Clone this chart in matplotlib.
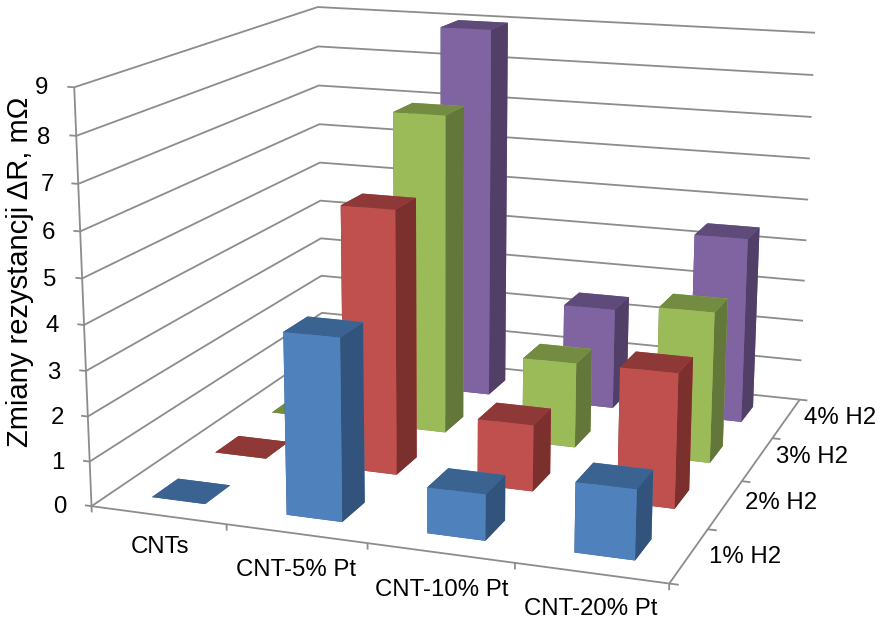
import numpy as np
import matplotlib
matplotlib.use('Agg')
import matplotlib.pyplot as plt
from mpl_toolkits.mplot3d import Axes3D

plt.rcParams['font.family'] = ['Liberation Sans', 'DejaVu Sans']

W, H = 880, 622

materials = ['CNTs', 'CNT-5% Pt', 'CNT-10% Pt', 'CNT-20% Pt']
gases = ['1% H2', '2% H2', '3% H2', '4% H2']

h2_1 = [0.0, 4.0, 1.0, 1.5]
h2_2 = [0.0, 6.0, 1.5, 3.0]
h2_3 = [0.0, 7.5, 2.0, 3.5]
h2_4 = [0.0, 9.0, 2.45, 4.45]
series = [h2_1, h2_2, h2_3, h2_4]

z_ticks = list(range(0, 10))

# front, top, side colour per series
front_cols = ['#4f81bd', '#c0504d', '#9bbb59', '#8064a2']
top_cols = ['#3b6391', '#8e3937', '#748c42', '#5f4b79']
side_cols = ['#32547c', '#7b302e', '#64773a', '#513f67']

grid_col = '#8c8c8c'

# box corners in data units and where they land on the canvas, used to
# solve for the perspective camera
box_pts = [(0, 0, 0), (0, 0, 9), (4, 0, 0), (4, 4, 0), (4, 4, 9), (0, 4, 0), (0, 4, 9)]
box_px = [(92, 506), (74, 87), (669, 584), (800, 399), (815, 33), (322, 350), (318, 7)]


def solve_camera(pts, px):
    rows = []
    for (x, y, z), (u, v) in zip(pts, px):
        rows.append([x, y, z, 1, 0, 0, 0, 0, -u * x, -u * y, -u * z, -u])
        rows.append([0, 0, 0, 0, x, y, z, 1, -v * x, -v * y, -v * z, -v])
    P = np.linalg.svd(np.array(rows, float))[2][-1].reshape(3, 4)
    centre = np.array([2, 2, 4, 1.0])
    if P[2] @ centre < 0:
        P = -P
    return P / (P[2] @ centre)


P = solve_camera(box_pts, box_px)

fig = plt.figure(figsize=(W / 100, H / 100), dpi=100)
ax = fig.add_axes([0, 0, 1, 1], projection='3d')
ax.set_axis_off()
ax.computed_zorder = False
ax.set_xlim(0, 4)
ax.set_ylim(0, 4)
ax.set_zlim(0, 9)


def get_proj():
    # canvas pixels to the 2D view box of the axes, z row keeps depth for sorting
    inv = ax.transData.inverted()
    (x0, y0), (x1, y1) = inv.transform([(0, 0), (W, H)])
    to_view = np.array([[(x1 - x0) / W, 0, x0], [0, -(y1 - y0) / H, y1], [0, 0, 1.0]])
    Q = to_view @ P
    return np.array([Q[0], Q[1], [0, 0, 0, -1.0], Q[2]])


ax.get_proj = get_proj

# walls and floor
line_kw = dict(color=grid_col, lw=1.3, zorder=1, solid_capstyle='butt', clip_on=False)
for z in z_ticks:
    ax.plot([0, 0, 4], [0, 4, 4], [z, z, z], **line_kw)
    ax.plot([0, -0.05], [0, 0], [z, z], **line_kw)
ax.plot([0, 0], [0, 0], [0, 9], **line_kw)
ax.plot([0, 4, 4], [0, 0, 4], [0, 0, 0], **line_kw)
for i in range(5):
    ax.plot([i, i], [0, 0], [0, -0.14], **line_kw)
    ax.plot([4, 4.06], [i, i], [0, 0], **line_kw)

# bars, back row first so nearer ones paint over
bar_w = 0.4
pad = (1 - bar_w) / 2
for j in range(len(gases) - 1, -1, -1):
    for i in range(len(materials)):
        cols = [top_cols[j], top_cols[j], front_cols[j], front_cols[j], side_cols[j], side_cols[j]]
        ax.bar3d(i + pad, j + pad, 0, bar_w, bar_w, series[j][i], color=cols, shade=False,
                 linewidth=0, zorder=10 + (3 - j) * 4 + i, clip_on=False)


# labels sit at fixed spots on the canvas
def label(px, py, s, fontsize=17.3, **kw):
    fig.text(px / W, 1 - py / H, s, ha='center', va='center', fontsize=fontsize, **kw)


for s, (px, py) in zip(materials, [(160, 547), (296, 570), (442, 590), (591, 609)]):
    label(px, py, s)
for s, (px, py) in zip(gases, [(745, 557), (781, 503), (812, 457), (840, 418)]):
    label(px, py, s)
z_label_x = [60, 58, 57, 54, 52, 50, 48, 47, 44, 42]
z_label_y = [507, 463, 418, 373, 326, 280, 233, 185, 138, 88]
for z, px, py in zip(z_ticks, z_label_x, z_label_y):
    label(px, py, str(z))
label(20, 272, 'Zmiany rezystancji \u0394R, m\u03a9', fontsize=21, rotation=90)

fig.savefig('out.png', dpi=100)
